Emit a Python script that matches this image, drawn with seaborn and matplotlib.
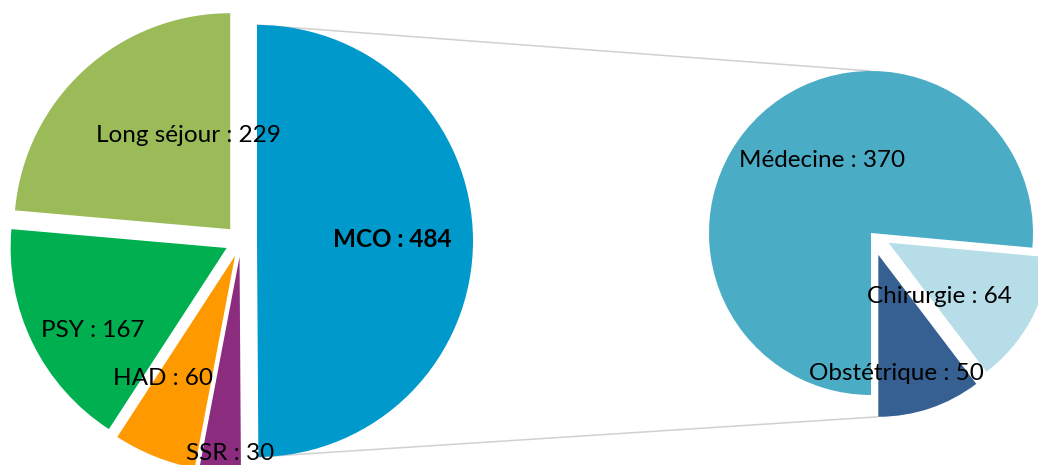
import numpy as np
import matplotlib
matplotlib.use("Agg")
import matplotlib.pyplot as plt
import seaborn as sns

# Hospital activity by sector, with the MCO share broken down on the right
main_labels = ["MCO", "SSR", "HAD", "PSY", "Long séjour"]
main_values = [484, 30, 60, 167, 229]
main_colors = ["#0099CC", "#8B2C7E", "#FF9900", "#00B050", "#9BBB59"]

detail_labels = ["Médecine", "Chirurgie", "Obstétrique"]
detail_values = [370, 64, 50]
detail_colors = ["#4BACC6", "#B7DEE8", "#366092"]

# Layout (pixel units, origin bottom-left)
W, H = 1038, 465
main_center = (241, H - 241)
main_radius = 216
main_explode = [16, 16, 16, 16, 16]
detail_center = (871, H - 233)
detail_radius = 162
detail_explode = [0, 20, 23]

main_label_pos = [(392, 246.7), (230, 460), (163, 385), (93, 337.3), (188, 141.7)]
detail_label_pos = [(822, 166.7), (939, 303.3), (896, 380)]

sns.set_theme(style="white")
plt.rcParams["font.family"] = ["Lato", "DejaVu Sans"]

fig = plt.figure(figsize=(W / 100, H / 100), dpi=100)
ax = fig.add_axes([0, 0, 1, 1])

main_wedges, _ = ax.pie(
    main_values, colors=main_colors, startangle=90, counterclock=False,
    radius=main_radius, center=main_center, explode=main_explode,
    wedgeprops=dict(linewidth=0),
)
detail_wedges, _ = ax.pie(
    detail_values, colors=detail_colors, startangle=-90, counterclock=False,
    radius=detail_radius, center=detail_center, explode=detail_explode,
    wedgeprops=dict(linewidth=0),
)


def arc_point(wedge, angle_deg):
    cx, cy = wedge.center
    a = np.deg2rad(angle_deg)
    return cx + wedge.r * np.cos(a), cy + wedge.r * np.sin(a)


# Connector lines from the MCO slice to the breakdown pie
mco = main_wedges[0]
top_start = arc_point(mco, max(mco.theta1, mco.theta2))
bot_start = arc_point(mco, min(mco.theta1, mco.theta2))
top_end = arc_point(detail_wedges[0], 90)
bot_end = arc_point(detail_wedges[2], -90)
for (x0, y0), (x1, y1) in [(top_start, top_end), (bot_start, bot_end)]:
    ax.plot([x0, x1], [y0, y1], color="#D0D0D0", linewidth=1.1, zorder=0.5,
            solid_capstyle="butt")

fs = 17.5
for name, val, (x, y) in zip(main_labels, main_values, main_label_pos):
    ax.text(x, H - y, f"{name} : {val}", ha="center", va="baseline",
            fontsize=fs, color="black",
            fontweight="bold" if name == "MCO" else "normal", zorder=5)
for name, val, (x, y) in zip(detail_labels, detail_values, detail_label_pos):
    ax.text(x, H - y, f"{name} : {val}", ha="center", va="baseline",
            fontsize=fs, color="black", zorder=5)

ax.set_xlim(0, W)
ax.set_ylim(0, H)
ax.set_aspect("equal")
ax.axis("off")

fig.savefig("out.png", dpi=100, facecolor="white")
